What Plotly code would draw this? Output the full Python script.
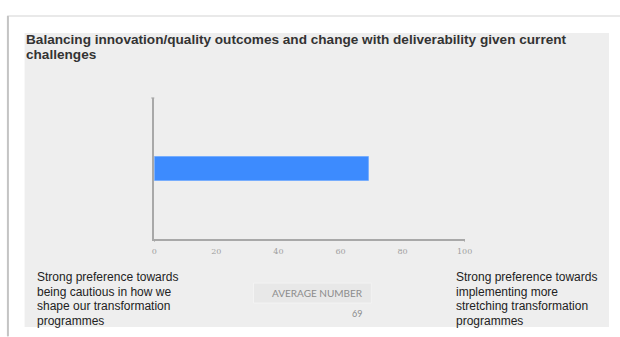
import plotly.graph_objects as go

# Survey item data
question_lines = [
    "Balancing innovation/quality outcomes and change with deliverability given current",
    "challenges",
]
categories = ["Average"]
average_values = [69]
x_ticks = [0, 20, 40, 60, 80, 100]
left_label = ["Strong preference towards", "being cautious in how we",
              "shape our transformation", "programmes"]
right_label = ["Strong preference towards", "implementing more",
               "stretching transformation", "programmes"]
summary_label = "AVERAGE NUMBER"

W, H = 620, 337


def px(x):
    return x / W


def py(y):
    return 1 - y / H


fig = go.Figure()
fig.add_trace(go.Bar(
    x=average_values,
    y=[0],
    orientation="h",
    width=0.17,
    marker=dict(color="#3d8bfe", line=dict(color="#6ea8ff", width=0.8)),
    hoverinfo="x",
    name=categories[0],
))

axis_grey = "#a8a8a8"
shapes = [
    # card with a soft shadow edge
    dict(type="rect", xref="paper", yref="paper", x0=px(5), x1=px(640), y0=py(360), y1=py(16),
         fillcolor="white", line=dict(color="#e2e2e2", width=1.5), layer="below"),
    dict(type="line", xref="paper", yref="paper", x0=px(5), x1=px(5), y0=py(336), y1=py(16),
         line=dict(color="#c4c4c4", width=2), layer="below"),
    # grey panel
    dict(type="rect", xref="paper", yref="paper", x0=px(22), x1=px(617), y0=py(327), y1=py(33),
         fillcolor="#eeeeee", line=dict(width=0), layer="below"),
    # summary box
    dict(type="rect", xref="paper", yref="paper", x0=px(255), x1=px(375), y0=py(303), y1=py(283),
         fillcolor="#e8e8e8", line=dict(color="#f3f3f3", width=1), layer="below"),
    # axis end ticks
    dict(type="line", xref="paper", yref="paper", x0=px(151), x1=px(154), y0=py(98), y1=py(98),
         line=dict(color=axis_grey, width=1.2)),
    dict(type="line", xref="x", yref="paper", x0=0, x1=0, y0=py(239), y1=py(242),
         line=dict(color=axis_grey, width=1.2)),
    dict(type="line", xref="x", yref="paper", x0=100, x1=100, y0=py(239), y1=py(242),
         line=dict(color=axis_grey, width=1.2)),
]

annotations = []
# title, one line per annotation
for i, line in enumerate(question_lines):
    annotations.append(dict(
        text="<b>" + line + "</b>", xref="paper", yref="paper", x=px(21), y=py(39 + 16 * i),
        xanchor="left", yanchor="middle", align="left", showarrow=False,
        font=dict(family="Liberation Sans, Arial", size=13.6, color="#333333")))

# end-point descriptions under the scale
for x0, lines in ((33, left_label), (459, right_label)):
    for i, line in enumerate(lines):
        annotations.append(dict(
            text=line, xref="paper", yref="paper", x=px(x0), y=py(277 + 14.6 * i),
            xanchor="left", yanchor="middle", align="left", showarrow=False,
            font=dict(family="Liberation Sans, Arial", size=12, color="#222222")))

annotations += [
    dict(text=summary_label, xref="paper", yref="paper", x=px(369), y=py(293),
         xanchor="right", yanchor="middle", showarrow=False,
         font=dict(family="Lato, Open Sans", size=10, color="#8c8c8c")),
    dict(text=str(average_values[0]), xref="paper", yref="paper", x=px(368), y=py(313),
         xanchor="right", yanchor="middle", showarrow=False,
         font=dict(family="Lato, Open Sans", size=9, color="#8c8c8c")),
]

fig.update_layout(
    width=W, height=H,
    margin=dict(l=0, r=0, t=0, b=0),
    paper_bgcolor="white",
    plot_bgcolor="rgba(0,0,0,0)",
    showlegend=False,
    shapes=shapes,
    annotations=annotations,
    xaxis=dict(
        domain=[px(154), px(470)], range=[0, 100], tickvals=x_ticks,
        showgrid=False, zeroline=False, showline=True, linecolor=axis_grey, linewidth=1.5,
        ticks="", ticklabelstandoff=4,
        tickfont=dict(family="DejaVu Serif", size=8, color="#a0a0a0"),
        fixedrange=True,
    ),
    yaxis=dict(
        domain=[py(239), py(98)], range=[-0.5, 0.5],
        showticklabels=False, showgrid=False, zeroline=False,
        showline=True, linecolor=axis_grey, linewidth=1.5, ticks="",
        fixedrange=True,
    ),
)

fig.write_html("out.html", config={"displayModeBar": False})
